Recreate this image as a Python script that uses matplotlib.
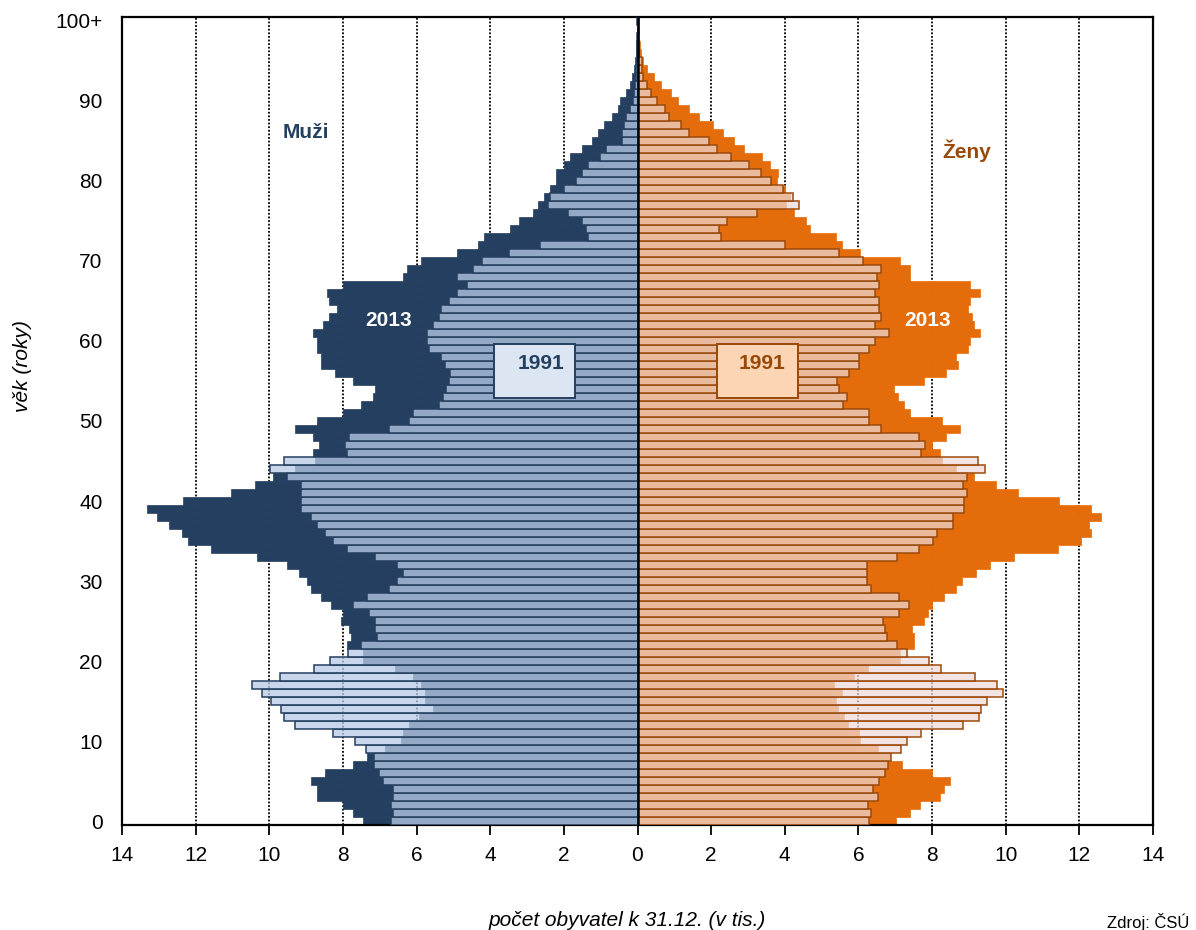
import matplotlib
matplotlib.use("Agg")
import matplotlib.pyplot as plt
import numpy as np
from matplotlib.patches import Rectangle

plt.rcParams['font.family'] = ['Liberation Sans', 'DejaVu Sans']

ages = np.arange(0, 101)

men_2013 = [7.45, 7.72, 8.00, 8.70, 8.70, 8.86, 8.48, 7.72, 7.34, 6.86,
            6.42, 6.37, 6.21, 5.93, 5.56, 5.77, 5.77, 5.88, 6.10, 6.59,
            7.45, 7.45, 7.88, 7.79, 7.84, 8.06, 8.00, 8.33, 8.59, 8.86,
            8.97, 9.19, 9.52, 10.33, 11.57, 12.22, 12.38, 12.71, 13.04, 13.31,
            12.33, 11.03, 10.38, 9.89, 9.30, 8.75, 8.81, 8.64, 8.81, 9.30,
            8.70, 8.00, 7.52, 7.19, 7.14, 7.73, 8.22, 8.59, 8.59, 8.70,
            8.70, 8.81, 8.54, 8.37, 8.16, 8.37, 8.43, 8.00, 6.37, 6.27,
            5.89, 4.91, 4.32, 4.16, 3.45, 3.23, 2.85, 2.69, 2.53, 2.37,
            2.20, 2.20, 1.99, 1.82, 1.50, 1.23, 1.07, 0.90, 0.69, 0.52,
            0.47, 0.31, 0.20, 0.14, 0.09, 0.06, 0.04, 0.03, 0.02, 0.01,
            0.02]

men_1991 = [6.70, 6.65, 6.70, 6.65, 6.65, 6.92, 7.03, 7.15, 7.15, 7.38,
            7.66, 8.26, 9.29, 9.61, 9.67, 9.94, 10.21, 10.48, 9.72, 8.79,
            8.36, 7.86, 7.52, 7.08, 7.14, 7.14, 7.30, 7.73, 7.35, 6.76,
            6.54, 6.38, 6.54, 7.14, 7.90, 8.27, 8.49, 8.70, 8.86, 9.13,
            9.13, 9.13, 9.13, 9.51, 9.99, 9.61, 7.90, 7.95, 7.84, 6.76,
            6.21, 6.11, 5.40, 5.29, 5.19, 5.13, 5.08, 5.24, 5.35, 5.67,
            5.73, 5.73, 5.56, 5.40, 5.35, 5.13, 4.91, 4.64, 4.91, 4.48,
            4.21, 3.50, 2.64, 1.34, 1.39, 1.50, 1.88, 2.42, 2.37, 1.99,
            1.66, 1.50, 1.34, 1.01, 0.85, 0.43, 0.42, 0.36, 0.31, 0.20,
            0.11, 0.09, 0.07, 0.04, 0.03, 0.02, 0.01, 0.01, 0.01, 0.00,
            0.01]

women_2013 = [7.02, 7.40, 7.67, 8.21, 8.32, 8.49, 7.99, 7.18, 6.85, 6.53,
              6.05, 6.01, 5.72, 5.61, 5.45, 5.40, 5.56, 5.34, 5.88, 6.26,
              7.13, 7.13, 7.51, 7.51, 7.46, 7.78, 7.89, 8.00, 8.32, 8.65,
              8.81, 9.19, 9.57, 10.22, 11.41, 12.04, 12.32, 12.26, 12.59, 12.32,
              11.45, 10.33, 9.73, 9.14, 8.65, 8.27, 8.22, 7.99, 8.38, 8.76,
              8.27, 7.40, 7.24, 7.08, 6.97, 7.78, 8.38, 8.70, 8.65, 8.97,
              9.03, 9.30, 9.14, 9.08, 8.97, 9.03, 9.30, 9.03, 7.40, 7.40,
              7.13, 6.05, 5.56, 5.40, 4.69, 4.58, 4.26, 4.04, 4.15, 4.00,
              3.79, 3.82, 3.61, 3.39, 2.90, 2.63, 2.31, 2.04, 1.66, 1.39,
              1.11, 0.90, 0.63, 0.46, 0.25, 0.14, 0.10, 0.06, 0.04, 0.03,
              0.03]

women_1991 = [6.30, 6.34, 6.25, 6.52, 6.39, 6.55, 6.73, 6.79, 6.88, 7.15,
              7.33, 7.71, 8.85, 9.28, 9.33, 9.50, 9.93, 9.77, 9.17, 8.25,
              7.91, 7.33, 7.06, 6.77, 6.72, 6.66, 7.09, 7.37, 7.09, 6.34,
              6.23, 6.23, 6.23, 7.04, 7.64, 8.02, 8.13, 8.56, 8.56, 8.88,
              8.88, 8.94, 8.83, 8.94, 9.43, 9.26, 7.69, 7.80, 7.64, 6.61,
              6.28, 6.28, 5.58, 5.69, 5.47, 5.41, 5.74, 6.01, 6.01, 6.28,
              6.44, 6.82, 6.44, 6.61, 6.55, 6.55, 6.44, 6.55, 6.50, 6.61,
              6.12, 5.47, 4.00, 2.27, 2.22, 2.43, 3.25, 4.38, 4.22, 3.95,
              3.63, 3.36, 3.03, 2.54, 2.16, 1.95, 1.40, 1.19, 0.86, 0.75,
              0.54, 0.37, 0.27, 0.16, 0.12, 0.12, 0.05, 0.04, 0.02, 0.01,
              0.02]

x_ticks = list(range(-14, 15, 2))
x_ticklabels = [str(abs(t)) for t in x_ticks]
y_ticks = list(range(0, 101, 10))
y_ticklabels = ['0', '10', '20', '30', '40', '50', '60', '70', '80', '90', '100+']

MEN_DARK = '#243F60'
MEN_OVER = (183/255, 203/255, 230/255, 0.766)
WOMEN_DARK = '#E46C0A'
WOMEN_OVER = (239/255, 218/255, 217/255, 0.725)
WOMEN_EDGE = '#9C4A0B'

fig = plt.figure(figsize=(11.96, 9.30), dpi=100)
ax = fig.add_axes([122/1196, 1 - 825/930, (1153 - 122)/1196, (825 - 17)/930])

# gridlines
for t in x_ticks:
    if t not in (-14, 0, 14):
        ax.axvline(t, color='black', lw=1.3, ls=(0, (1, 1)), zorder=0)

m13 = np.array(men_2013)
m91 = np.array(men_1991)
w13 = np.array(women_2013)
w91 = np.array(women_1991)

ax.barh(ages, -m13, height=1.0, color=MEN_DARK, edgecolor=MEN_DARK, lw=0.5, zorder=2)
ax.barh(ages, w13, height=1.0, color=WOMEN_DARK, edgecolor=WOMEN_DARK, lw=0.5, zorder=2)

ax.barh(ages, -m91, height=1.0, facecolor=MEN_OVER, edgecolor=MEN_DARK, lw=1.1, zorder=3)
ax.barh(ages, w91, height=1.0, facecolor=WOMEN_OVER, edgecolor=WOMEN_EDGE, lw=1.1, zorder=3)

ax.axvline(0, color='black', lw=1.8, zorder=4)

ax.set_xlim(-14, 14)
ax.set_ylim(-0.45, 100.45)
ax.set_xticks(x_ticks)
ax.set_xticklabels(x_ticklabels, fontsize=15)
ax.set_yticks(y_ticks)
ax.set_yticklabels(y_ticklabels, fontsize=15)
ax.tick_params(axis='x', direction='out', length=7, width=1.3, pad=8)
ax.tick_params(axis='y', length=0, pad=14)
for s in ax.spines.values():
    s.set_linewidth(1.6)
    s.set_color('black')

# labels inside
ax.text(-9.0, 86.0, 'Muži', color=MEN_DARK, fontsize=15, fontweight='bold',
        ha='center', va='center', zorder=6)
ax.text(8.94, 83.8, 'Ženy', color='#984807', fontsize=15, fontweight='bold',
        ha='center', va='center', zorder=6)
ax.text(-6.75, 62.6, '2013', color='white', fontsize=15, fontweight='bold',
        ha='center', va='center', zorder=6)
ax.text(7.89, 62.5, '2013', color='white', fontsize=15, fontweight='bold',
        ha='center', va='center', zorder=6)

ax.add_patch(Rectangle((-3.90, 52.9), 2.19, 6.75, facecolor='#DCE6F2',
                       edgecolor=MEN_DARK, lw=1.4, zorder=5))
ax.text(-2.63, 57.2, '1991', color=MEN_DARK, fontsize=15, fontweight='bold',
        ha='center', va='center', zorder=6)
ax.add_patch(Rectangle((2.17, 52.9), 2.19, 6.75, facecolor='#FCD5B4',
                       edgecolor='#984807', lw=1.4, zorder=5))
ax.text(3.39, 57.2, '1991', color='#984807', fontsize=15, fontweight='bold',
        ha='center', va='center', zorder=6)

fig.text(627/1196, 1 - 920/930, 'počet obyvatel k 31.12. (v tis.)', fontsize=15,
         style='italic', ha='center', va='center')
fig.text(1148/1196, 1 - 922/930, 'Zdroj: ČSÚ', fontsize=12, ha='center', va='center')
fig.text(22/1196, 1 - 366/930, 'věk (roky)', fontsize=15, style='italic',
         rotation=90, ha='center', va='center')

fig.savefig('out.png', dpi=100)
